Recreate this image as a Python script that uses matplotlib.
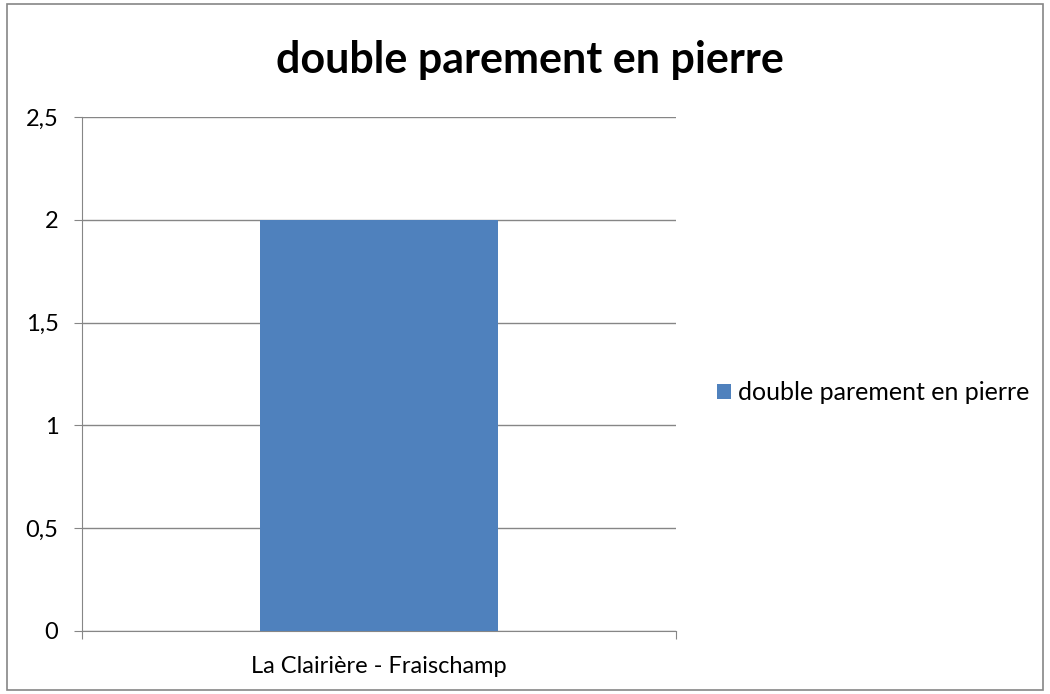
import matplotlib.pyplot as plt
from matplotlib.patches import Rectangle
from matplotlib.ticker import FuncFormatter

# Data
categories = ["La Clairière - Fraischamp"]
values = [2]
series_name = "double parement en pierre"
title = "double parement en pierre"

plt.rcParams["font.family"] = ["Lato", "DejaVu Sans"]

fig = plt.figure(figsize=(10.5, 6.94), dpi=100)
ax = fig.add_axes([0.0781, 0.0908, 0.5657, 0.7406])

bars = ax.bar(range(len(categories)), values, width=0.4, color="#4F81BD", label=series_name, zorder=3)
ax.set_xlim(-0.5, len(categories) - 0.5)
ax.set_ylim(0, 2.5)
ax.set_yticks([0, 0.5, 1, 1.5, 2, 2.5])
ax.yaxis.set_major_formatter(FuncFormatter(lambda v, p: ("%g" % v).replace(".", ",")))
# category boundaries get the tick marks, labels sit in the middle
ax.set_xticks([-0.5, 0.5])
ax.set_xticklabels(["", ""])
ax.set_xticks(range(len(categories)), minor=True)
ax.set_xticklabels(categories, minor=True)
ax.tick_params(axis="x", which="minor", length=0, labelsize=17, pad=18)
ax.tick_params(axis="x", which="major", length=6, color="#868686", direction="out")
ax.tick_params(axis="y", length=6, color="#868686", labelsize=17, pad=11)

ax.grid(axis="y", color="#868686", linewidth=1, zorder=0)
for s in ["top", "right"]:
    ax.spines[s].set_visible(False)
for s in ["left", "bottom"]:
    ax.spines[s].set_color("#868686")

fig.text(0.505, 0.913, title, ha="center", va="center", fontsize=31, fontweight="bold")

fig.legend(handles=[bars], labels=[series_name], loc="center left", bbox_to_anchor=(0.683, 0.434),
           frameon=False, fontsize=18, handlelength=0.55, handleheight=0.55, handletextpad=0.3,
           borderaxespad=0, borderpad=0)

fig.patches.append(Rectangle((0.0067, 0.006), 0.987, 0.988, transform=fig.transFigure,
                             fill=False, edgecolor="#868686", linewidth=1.2))

fig.savefig("out.png", dpi=100)
